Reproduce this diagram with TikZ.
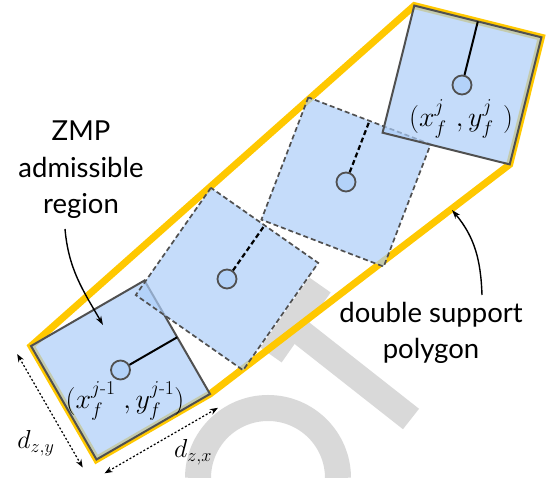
\RequirePackage{fix-cm}
\documentclass[tikz,border=0pt]{standalone}
\usepackage{amsmath}
\usepackage[no-math]{fontspec}
\newfontfamily\lato{Lato}
\usetikzlibrary{calc,arrows.meta,backgrounds}
\definecolor{footblue}{RGB}{172,205,248}
\definecolor{edgegray}{RGB}{80,80,80}
\definecolor{polyyellow}{RGB}{255,200,0}
\definecolor{wmgray}{RGB}{217,217,217}
\begin{document}
\begin{tikzpicture}[x=1pt,y=1pt,
  footbase/.style={rectangle, minimum size=131pt, inner sep=0pt, outer sep=0pt, fill=footblue, fill opacity=0.7},
  solidfoot/.style={footbase, draw=edgegray, line width=2pt},
  dashfoot/.style={footbase, draw=edgegray, line width=1.7pt, dash pattern=on 5pt off 3pt},
  zmpdot/.style={circle, minimum size=19pt, inner sep=0pt, fill=footblue, fill opacity=0.7, draw=edgegray, line width=1.8pt},
  solidleg/.style={draw=black, line width=2pt},
  dashleg/.style={draw=black, line width=2.2pt, dash pattern=on 5pt off 3pt},
  polyline/.style={draw=polyyellow, line width=7pt, line join=miter},
  wmark/.style={draw=wmgray, line width=26pt, line cap=butt},
  txt/.style={font=\lato\fontsize{27.5}{36.5}\selectfont, align=center, inner sep=0pt},
  mathlab/.style={font=\fontsize{28}{30}\selectfont, inner sep=0pt},
  dimlab/.style={font=\fontsize{26}{28}\selectfont, inner sep=0pt},
  arr/.style={-{Stealth[length=9pt,width=6pt]}, line width=1.4pt},
  dimarr/.style={{Stealth[length=8pt,width=6pt]}-{Stealth[length=8pt,width=6pt]}, line width=1.2pt, dash pattern=on 2pt off 2pt}]
\useasboundingbox (0,0) rectangle (551,478);

% feet
\node[solidfoot, rotate=30] (f1) at (120.5,108) {};
\node[zmpdot] (c1) at (f1.center) {};
\draw[solidleg] (c1) -- (f1.east);

\node[dashfoot, rotate=55] (f2) at (227,199) {};
\node[zmpdot] (c2) at (f2.center) {};
\draw[dashleg] (c2) -- (f2.east);

\node[dashfoot, rotate=69] (f3) at (346,296) {};
\node[zmpdot] (c3) at (f3.center) {};
\draw[dashleg] (c3) -- (f3.east);

\node[solidfoot, rotate=76] (f4) at (462,393) {};
\node[zmpdot] (c4) at (f4.center) {};
\draw[solidleg] (c4) -- (f4.east);

\begin{scope}[on background layer]
  \draw[wmark] (338,0) arc[start angle=0, end angle=180, radius=70];
  \draw[wmark] (320,193) -- (271,123);
  \draw[wmark] (291.5,153) -- (411,59);
  \draw[polyline] (f1.north west) -- (f4.north east) -- (f4.south east)
    -- (f4.south west) -- (f1.south east) -- (f1.south west) -- cycle;
\end{scope}

% coordinate labels
\node[mathlab] (lab1) at (125,77) {$(x_f^{j\text{-}1}\mkern5mu,y_f^{j\text{-}1})$};
\node[mathlab] (lab4) at (461,359) {$(x_f^{j}\mkern6mu,y_f^{j}\mkern6mu)$};

% dimensions
\coordinate (dy1) at ($(f1.north west)!16pt!-90:(f1.south west)$);
\coordinate (dy2) at ($(f1.south west)!16pt!90:(f1.north west)$);
\coordinate (dx1) at ($(f1.south west)!16pt!-90:(f1.south east)$);
\coordinate (dx2) at ($(f1.south east)!16pt!90:(f1.south west)$);
\draw[dimarr] (dy1) -- (dy2);
\draw[dimarr] (dx1) -- (dx2);
\node[dimlab] (dzy) at (36,35) {$d_{z,y}$};
\node[dimlab] (dzx) at (193,26) {$d_{z,x}$};

% text labels
\node[txt] (zmp) at (81,308) {ZMP\\admissible\\region};
\node[txt] (dsp) at (431,145) {double support\\polygon};
\coordinate (za) at (65,249);
\coordinate (zb) at (103,153);
\draw[arr] (za) to[out=-85,in=120] (zb);
\coordinate (da) at (482,183);
\coordinate (db) at (452,268);
\draw[arr] (da) to[out=92,in=-50] (db);
\end{tikzpicture}
\end{document}
